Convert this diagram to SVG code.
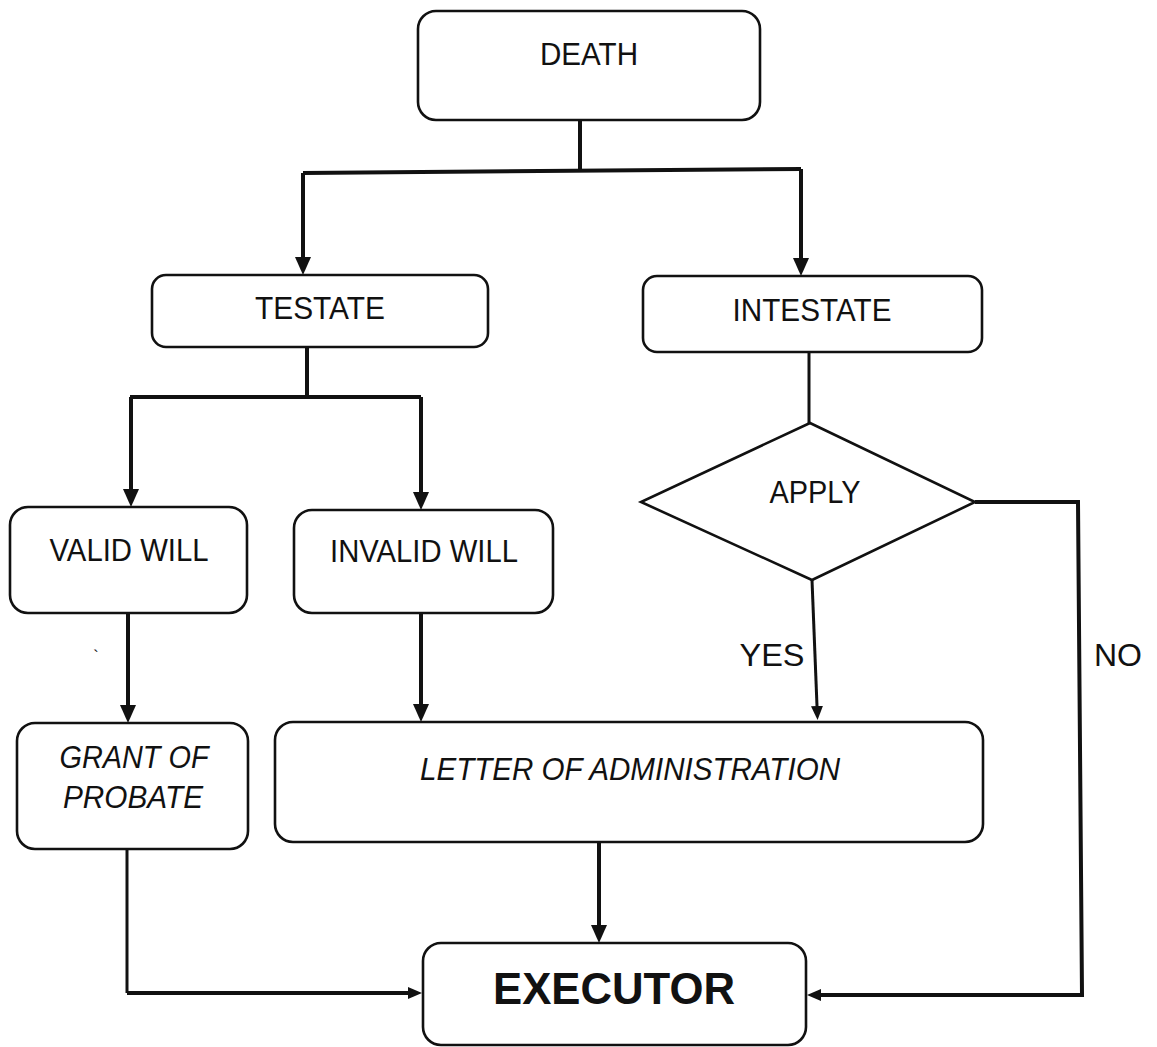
<svg xmlns="http://www.w3.org/2000/svg" width="1157" height="1047" viewBox="0 0 1157 1047">
<style>
.box{fill:#fff;stroke:#111;stroke-width:2.6}
.t{font-family:"Liberation Sans",Arial,sans-serif;font-size:31px;fill:#111;text-anchor:middle}
.i{font-style:italic}
.b{font-weight:bold;font-size:45px}
.c{fill:none;stroke:#111;stroke-width:4;stroke-linejoin:miter}
.m{stroke-width:3}
</style>
<defs>
<marker id="big" markerUnits="userSpaceOnUse" markerWidth="18" markerHeight="16" refX="0" refY="8" orient="auto">
<path d="M0,0 L18,8 L0,16 z" fill="#111"/>
</marker>
<marker id="small" markerUnits="userSpaceOnUse" markerWidth="14" markerHeight="12" refX="0" refY="6" orient="auto">
<path d="M0,0 L14,6 L0,12 z" fill="#111"/>
</marker>
</defs>
<rect width="1157" height="1047" fill="#fff"/>
<g id="connectors">
<path class="c" d="M580,121 V171"/>
<path class="c" d="M303,173 L801,169"/>
<path class="c" d="M303,173 V257" marker-end="url(#big)"/>
<path class="c" d="M801,169 V258" marker-end="url(#big)"/>
<path class="c" d="M307,347 V397"/>
<path class="c" d="M130,397 H421"/>
<path class="c" d="M131,397 V489" marker-end="url(#big)"/>
<path class="c" d="M421,397 V492" marker-end="url(#big)"/>
<path class="c m" d="M809,353 V423"/>
<path class="c m" d="M812,580 L817,706" marker-end="url(#small)"/>
<path class="c" d="M975,502 H1078 L1082,995 H821" marker-end="url(#small)"/>
<path class="c" d="M128,613 V705" marker-end="url(#big)"/>
<path class="c" d="M421,613 V704" marker-end="url(#big)"/>
<path class="c" d="M599,842 V925" marker-end="url(#big)"/>
<path class="c m" d="M127,849 V993"/>
<path class="c" d="M127,993 H408" marker-end="url(#small)"/>
</g>
<g id="death"><rect class="box" x="418" y="11" width="342" height="109" rx="18"/><text class="t" x="589" y="65" textLength="98" lengthAdjust="spacingAndGlyphs">DEATH</text></g>
<g id="testate"><rect class="box" x="152" y="275" width="336" height="72" rx="14"/><text class="t" x="320" y="319" textLength="130" lengthAdjust="spacingAndGlyphs">TESTATE</text></g>
<g id="intestate"><rect class="box" x="643" y="276" width="339" height="76" rx="14"/><text class="t" x="812" y="321" textLength="159" lengthAdjust="spacingAndGlyphs">INTESTATE</text></g>
<g id="valid"><rect class="box" x="10" y="507" width="237" height="106" rx="18"/><text class="t" x="129" y="561" textLength="159" lengthAdjust="spacingAndGlyphs">VALID WILL</text></g>
<g id="invalid"><rect class="box" x="294" y="510" width="259" height="103" rx="18"/><text class="t" x="424" y="562" textLength="188" lengthAdjust="spacingAndGlyphs">INVALID WILL</text></g>
<g id="apply"><polygon class="box" points="810,423 975,502 812,580 641,502"/><text class="t" x="815" y="503" textLength="91" lengthAdjust="spacingAndGlyphs">APPLY</text></g>
<g id="labels">
<text class="t" x="772" y="666" textLength="65" lengthAdjust="spacingAndGlyphs">YES</text>
<text class="t" x="1118" y="666" textLength="48" lengthAdjust="spacingAndGlyphs">NO</text>
<text class="t" x="96" y="662" style="font-size:16px">`</text>
</g>
<g id="grant"><rect class="box" x="17" y="723" width="231" height="126" rx="18"/><text class="t i" x="134" y="768" textLength="149" lengthAdjust="spacingAndGlyphs">GRANT OF</text><text class="t i" x="133" y="808" textLength="140" lengthAdjust="spacingAndGlyphs">PROBATE</text></g>
<g id="letter"><rect class="box" x="275" y="722" width="708" height="120" rx="18"/><text class="t i" x="630" y="780" textLength="420" lengthAdjust="spacingAndGlyphs">LETTER OF ADMINISTRATION</text></g>
<g id="executor"><rect class="box" x="423" y="943" width="383" height="102" rx="18"/><text class="t b" x="614" y="1004" textLength="242" lengthAdjust="spacingAndGlyphs">EXECUTOR</text></g>
</svg>
